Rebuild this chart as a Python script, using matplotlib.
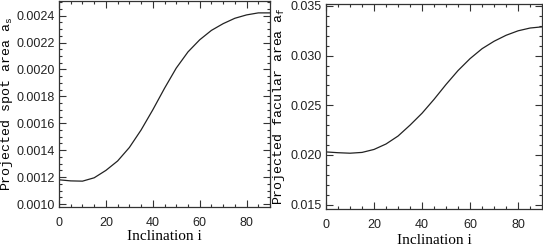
"""Projected spot and facular area versus inclination"""

import numpy as np
import matplotlib
matplotlib.use("Agg")
import matplotlib.pyplot as plt
from matplotlib.ticker import MultipleLocator

# Inclination grid [deg]
incl = [0, 5, 10, 15, 20, 25, 30, 35, 40, 45,
        50, 55, 60, 65, 70, 75, 80, 85, 90]

# Projected spot area a_s
spot_area = [0.00118, 0.001172, 0.00117, 0.001195, 0.00125, 0.00132,
             0.00142, 0.00155, 0.00170, 0.00186, 0.00201, 0.00213,
             0.00222, 0.00229, 0.00234, 0.00238, 0.002405, 0.00242,
             0.00242]

# Projected facular area a_f
facular_area = [0.0203, 0.02022, 0.02017, 0.02025, 0.02055, 0.0211,
                0.0219, 0.0230, 0.0242, 0.0256, 0.0271, 0.0285,
                0.0297, 0.0307, 0.03145, 0.03205, 0.0325, 0.03278,
                0.0329]

tick_family = "Liberation Sans"
tick_size = 9
xlabel_font = {"family": "Liberation Serif", "size": 11}
ylabel_font = {"family": "Liberation Mono", "size": 9.5}


def style_axis(ax, ymajor, yminor, yfmt):
    """IDL-like frame: inward ticks on all sides"""
    ax.set_xlim(0, 90)
    ax.xaxis.set_major_locator(MultipleLocator(20))
    ax.xaxis.set_minor_locator(MultipleLocator(5))
    ax.yaxis.set_major_locator(MultipleLocator(ymajor))
    ax.yaxis.set_minor_locator(MultipleLocator(yminor))
    ax.yaxis.set_major_formatter(plt.FuncFormatter(lambda v, p: yfmt % v))
    ax.tick_params(which="both", direction="in", top=True, right=True,
                   color="#333333", labelcolor="#222222",
                   labelsize=tick_size)
    ax.tick_params(which="major", length=5, width=0.8)
    ax.tick_params(which="minor", length=2.5, width=0.8)
    ax.tick_params(axis="x", pad=7)
    ax.tick_params(axis="y", pad=3)
    for sp in ax.spines.values():
        sp.set_linewidth(0.9)
        sp.set_color("#333333")


plt.rcParams["font.family"] = tick_family

fig = plt.figure(figsize=(5.43, 2.50), dpi=100)

# Left panel: spot area
ax1 = fig.add_axes([0.1087, 0.172, 0.3886, 0.826])
ax1.plot(incl, spot_area, color="#222222", lw=0.9)
ax1.set_ylim(0.000978, 0.002512)
style_axis(ax1, 0.0002, 0.00005, "%.4f")
ax1.set_xlabel("Inclination i", labelpad=1, **xlabel_font)
ax1.set_ylabel(r"Projected spot area a$_\mathregular{s}$", **ylabel_font)
ax1.yaxis.set_label_coords(-0.2085, 0.5)

# Right panel: facular area
ax2 = fig.add_axes([0.6004, 0.164, 0.3980, 0.820])
ax2.plot(incl, facular_area, color="#222222", lw=0.9)
ax2.set_ylim(0.01455, 0.0352)
style_axis(ax2, 0.005, 0.001, "%.3f")
ax2.set_xlabel("Inclination i", labelpad=2, **xlabel_font)
ax2.set_ylabel(r"Projected facular area a$_\mathregular{f}$", **ylabel_font)
ax2.yaxis.set_label_coords(-0.18, 0.5)

fig.savefig("out.png", dpi=100)
